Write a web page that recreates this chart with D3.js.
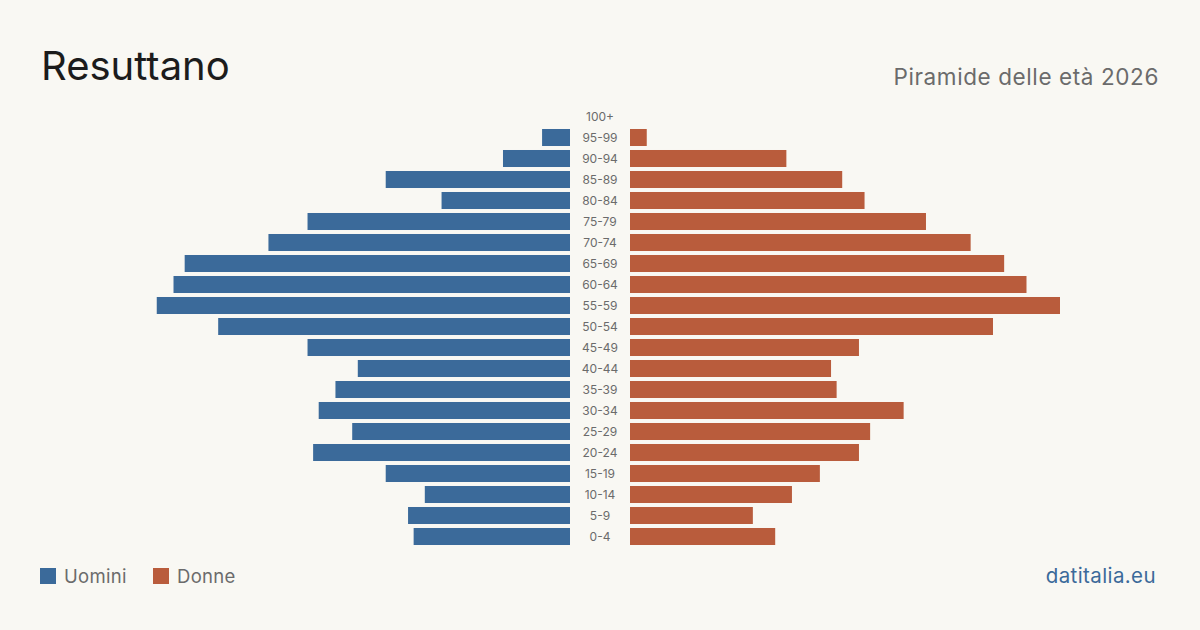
<!DOCTYPE html>
<html>
<head>
<meta charset="utf-8">
<script src="https://cdn.jsdelivr.net/npm/d3@7"></script>
<style>
  body { margin: 0; background: #f9f8f3; }
  svg { display: block; font-family: Inter, "Noto Sans", sans-serif; }
</style>
</head>
<body>
<svg id="chart" width="1200" height="630"></svg>
<script>
// age groups, top to bottom
let ageGroups = ["100+", "95-99", "90-94", "85-89", "80-84", "75-79", "70-74", "65-69", "60-64", "55-59",
                 "50-54", "45-49", "40-44", "35-39", "30-34", "25-29", "20-24", "15-19", "10-14", "5-9", "0-4"]
let uomini = [0, 5, 12, 33, 23, 47, 54, 69, 71, 74, 63, 47, 38, 42, 45, 39, 46, 33, 26, 29, 28]
let donne  = [0, 3, 28, 38, 42, 53, 61, 67, 71, 77, 65, 41, 36, 37, 49, 43, 41, 34, 29, 22, 26]
let legendItems = ["Uomini", "Donne"]

let blue = "#3b6a9a"
let orange = "#b95c3c"

let svg = d3.select("#chart")

svg.append("rect").attr("width", 1200).attr("height", 630).attr("fill", "#f9f8f3")

// title
svg.append("text")
   .attr("x", 41).attr("y", 80)
   .attr("font-size", 40)
   .attr("fill", "#1c1c1c")
   .text("Resuttano")

svg.append("text")
   .attr("x", 1159).attr("y", 85)
   .attr("text-anchor", "end")
   .attr("font-size", 22.5)
   .attr("letter-spacing", 0.6)
   .attr("fill", "#6b6b6b")
   .text("Piramide delle età 2026")

let centerLeft = 570
let centerRight = 630

let y = d3.scaleBand()
          .domain(ageGroups)
          .range([106, 547])
          .paddingInner(0.19)
          .paddingOuter(0.095)

let maxVal = d3.max(uomini.concat(donne))
let x = d3.scaleLinear()
          .domain([0, maxVal])
          .range([0, 430])

let rows = ageGroups.map(function(g, i){
    return {group: g, m: uomini[i], f: donne[i]}
})

svg.append("g").selectAll("rect")
   .data(rows)
   .enter()
   .append("rect")
   .attr("x", function(d){ return centerLeft - x(d.m) })
   .attr("y", function(d){ return y(d.group) })
   .attr("width", function(d){ return x(d.m) })
   .attr("height", y.bandwidth())
   .attr("fill", blue)

svg.append("g").selectAll("rect")
   .data(rows)
   .enter()
   .append("rect")
   .attr("x", centerRight)
   .attr("y", function(d){ return y(d.group) })
   .attr("width", function(d){ return x(d.f) })
   .attr("height", y.bandwidth())
   .attr("fill", orange)

svg.append("g").selectAll("text")
   .data(ageGroups)
   .enter()
   .append("text")
   .attr("x", 600)
   .attr("y", function(d){ return y(d) + y.bandwidth() / 2 })
   .attr("dy", "0.35em")
   .attr("text-anchor", "middle")
   .attr("font-size", 12)
   .attr("fill", "#6b6b6b")
   .text(function(d){ return d })

// legend
let legend = svg.append("g")
let legendX = [40, 153]
legendItems.forEach(function(name, i){
    legend.append("rect")
          .attr("x", legendX[i]).attr("y", 568)
          .attr("width", 16).attr("height", 16)
          .attr("fill", i == 0 ? blue : orange)
    legend.append("text")
          .attr("x", legendX[i] + 24).attr("y", 583)
          .attr("font-size", 18.5)
          .attr("letter-spacing", 0.3)
          .attr("fill", "#6b6b6b")
          .text(name)
})

svg.append("text")
   .attr("x", 1156).attr("y", 583)
   .attr("text-anchor", "end")
   .attr("font-size", 20.5)
   .attr("letter-spacing", 0.4)
   .attr("fill", "#3b6a9a")
   .text("datitalia.eu")
</script>
</body>
</html>
